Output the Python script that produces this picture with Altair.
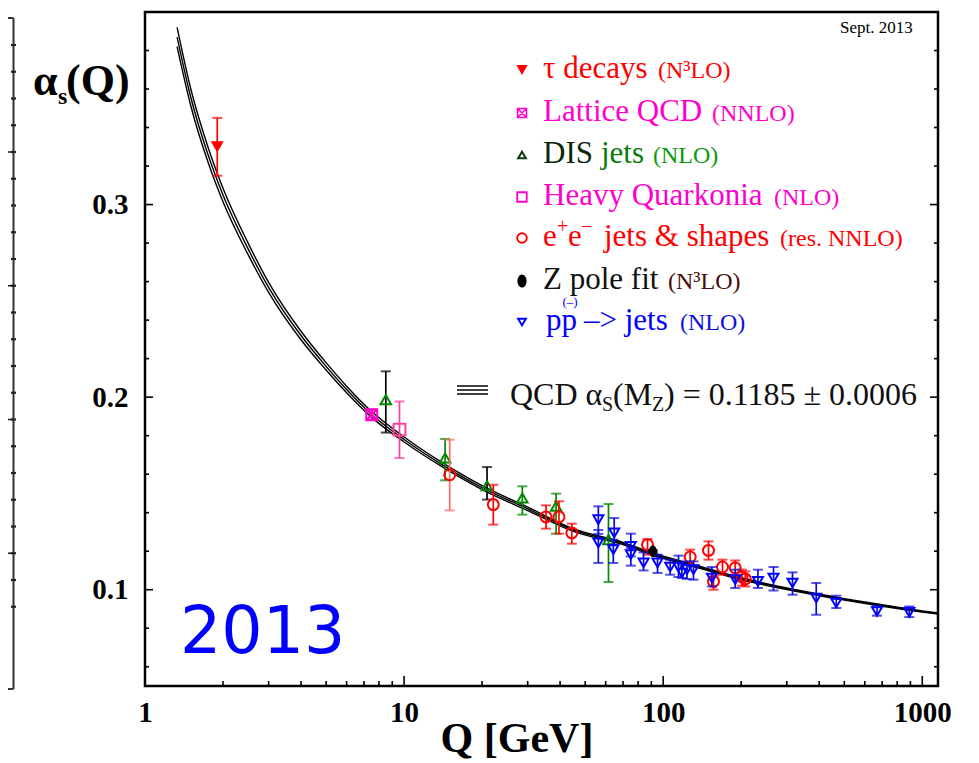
import altair as alt
import pandas as pd

# ---------------- data ----------------
# QCD running coupling curve (central value) and half width of the band
curve_q = [1.33, 1.5, 1.75, 2.0, 2.5, 3.0, 4.0, 5.0, 6.0, 7.5, 10, 14, 20, 30, 45, 70, 91.2, 130, 200, 300, 500, 700, 1000, 1150]
curve_a = [0.387, 0.356, 0.326, 0.305, 0.277, 0.257, 0.232, 0.216, 0.204, 0.191, 0.178, 0.165, 0.153, 0.142, 0.131, 0.124, 0.1185, 0.1127, 0.1057, 0.1005, 0.0950, 0.0918, 0.0887, 0.0876]
curve_band = [0.0050, 0.0044, 0.0039, 0.0035, 0.0030, 0.0026, 0.0022, 0.0019, 0.0017, 0.0015, 0.0013, 0.0011, 0.0010, 0.0009, 0.0007, 0.0006, 0.0006, 0.0005, 0.0005, 0.0004, 0.0004, 0.0004, 0.0003, 0.0003]

# tau decays (N3LO)
tau_q = [1.9]
tau_a = [0.330]
tau_lo = [0.315]
tau_hi = [0.345]

# Lattice QCD (NNLO)
lat_q = [7.5]
lat_a = [0.1909]
lat_lo = [0.1885]
lat_hi = [0.1933]

# DIS jets (NLO)
dis_q = [8.5, 14.4, 20.9, 28.6, 38.6, 61.5]
dis_a = [0.1987, 0.1684, 0.1540, 0.1476, 0.1433, 0.1260]
dis_lo = [0.1816, 0.1568, 0.1468, 0.1390, 0.1291, 0.1040]
dis_hi = [0.2134, 0.1783, 0.1637, 0.1537, 0.1499, 0.1445]

# Heavy Quarkonia (NLO)
qk_q = [9.6]
qk_a = [0.1831]
qk_lo = [0.1684]
qk_hi = [0.1978]

# e+e- jets & shapes (res. NNLO)
ee_q = [15.0, 22.1, 35.3, 39.6, 44.4, 87.0, 127.1, 149.6, 156.4, 169.4, 189.7, 201.3, 207.4]
ee_a = [0.1597, 0.1442, 0.1378, 0.1378, 0.1295, 0.1234, 0.1170, 0.1204, 0.1043, 0.1118, 0.1113, 0.1066, 0.1056]
ee_lo = [0.1412, 0.1338, 0.1317, 0.1291, 0.1239, 0.1182, 0.1130, 0.1156, 0.1000, 0.1078, 0.1069, 0.1021, 0.1017]
ee_hi = [0.1779, 0.1545, 0.1438, 0.1459, 0.1343, 0.1263, 0.1208, 0.1251, 0.1069, 0.1156, 0.1152, 0.1104, 0.1095]

# Z pole fit (N3LO)
z_q = [91.2]
z_a = [0.1200]
z_lo = [0.1195]
z_hi = [0.1205]

# p pbar -> jets (NLO)
pp_q = [56.2, 56.2, 64.7, 64.2, 75.0, 75.0, 84.0, 95.1, 106.4, 114.6, 118.1, 123.5, 130.9, 154.2, 189.7, 232.1, 266.6, 315.6, 389.7, 465.6, 668.6, 891]
pp_a = [0.1364, 0.1243, 0.1295, 0.1208, 0.1225, 0.1182, 0.1139, 0.1139, 0.1118, 0.1118, 0.1087, 0.1104, 0.1104, 0.1061, 0.1052, 0.1043, 0.1061, 0.1035, 0.0957, 0.0931, 0.0887, 0.0882]
pp_lo = [0.1290, 0.1139, 0.1234, 0.1139, 0.1173, 0.1125, 0.1100, 0.1087, 0.1078, 0.1066, 0.1061, 0.1056, 0.1052, 0.1017, 0.1009, 0.1009, 0.0996, 0.0974, 0.0870, 0.0905, 0.0865, 0.0858]
pp_hi = [0.1433, 0.1310, 0.1372, 0.1260, 0.1291, 0.1217, 0.1194, 0.1182, 0.1156, 0.1177, 0.1130, 0.1147, 0.1147, 0.1118, 0.1104, 0.1104, 0.1118, 0.1090, 0.1035, 0.0969, 0.0917, 0.0913]

# axis ticks
x_labels = [1, 10, 100, 1000]
x_minor = [2, 3, 4, 5, 6, 7, 8, 9, 20, 30, 40, 50, 60, 70, 80, 90, 200, 300, 400, 500, 600, 700, 800, 900]
x_major = [10, 100, 1000]
y_labels = [0.1, 0.2, 0.3]
y_minor = [0.06, 0.08, 0.12, 0.14, 0.16, 0.18, 0.22, 0.24, 0.26, 0.28, 0.32, 0.34, 0.36, 0.38]
y_major = [0.1, 0.2, 0.3]

# ---------------- layout / style ----------------
W, H = 793, 674
PX0, PY0 = 145, 12          # page position of the plot origin
SERIF = "Liberation Serif"
DIS_BAR_COLORS = ["black", "#008a00", "black", "#008a00", "#008a00", "#008a00"]
EE_BAR_COLORS = ["#ff6a6a"] + ["#ff0000"] * 12

xs = alt.Scale(type="log", domain=[1, 1150], nice=False)
ys = alt.Scale(domain=[0.05, 0.40], nice=False, zero=False)
xaxis = alt.Axis(values=x_labels, format="d", labelFont=SERIF, labelFontWeight="bold",
                 labelFontSize=29, labelColor="black", ticks=False, domain=False,
                 grid=False, title=None, labelPadding=12, labelFlush=False,
                 labelOverlap=False)
yaxis = alt.Axis(values=y_labels, format=".1f", labelFont=SERIF, labelFontWeight="bold",
                 labelFontSize=29, labelColor="black", ticks=False, domain=False,
                 grid=False, title=None, labelPadding=17, labelFlush=False,
                 labelOverlap=False)


def X(f):
    return alt.X(f, scale=xs, axis=xaxis)


def Y(f):
    return alt.Y(f, scale=ys, axis=yaxis)


BOXX = "M-1,-1L1,-1L1,1L-1,1Z M-1,-1L1,1 M1,-1L-1,1"
ELLIPSE = "M0,-1.15 A0.8,1.15 0 1,1 0,1.15 A0.8,1.15 0 1,1 0,-1.15 Z"


def px(x):
    return x - PX0


def py(y):
    return y - PY0


ONE = pd.DataFrame({"d": [0]})


def text(t, x, y, size, color="black", weight="normal", font=SERIF, align="left"):
    return alt.Chart(pd.DataFrame({"t": [t]})).mark_text(
        align=align, baseline="alphabetic", font=font, fontSize=size,
        fontWeight=weight, color=color
    ).encode(x=alt.value(px(x)), y=alt.value(py(y)), text=alt.Text("t:N"))


def hline(x1, x2, y, color="black", w=1.5):
    return alt.Chart(ONE).mark_rule(color=color, strokeWidth=w).encode(
        x=alt.value(px(x1)), x2=alt.value(px(x2)), y=alt.value(py(y)))


def vline(x, y1, y2, color="black", w=1.5):
    return alt.Chart(ONE).mark_rule(color=color, strokeWidth=w).encode(
        x=alt.value(px(x)), y=alt.value(py(y1)), y2=alt.value(py(y2)))


def legend_symbol(x, y, shape, color, size, filled, sw=2.0):
    return alt.Chart(ONE).mark_point(
        shape=shape, size=size, filled=filled, color=color, opacity=1,
        strokeWidth=sw
    ).encode(x=alt.value(px(x)), y=alt.value(py(y)))


def series(q, a, lo, hi, shape, color, bar_colors, size, filled=False, cap=10, sw=2.0):
    df = pd.DataFrame({"q": q, "a": a, "lo": lo, "hi": hi, "bc": bar_colors})
    base = alt.Chart(df)
    bc = alt.Color("bc:N", scale=None, legend=None)
    bars = base.mark_rule(strokeWidth=1.7).encode(x=X("q:Q"), y=Y("lo:Q"), y2="hi:Q", color=bc)
    cap_lo = base.mark_tick(orient="horizontal", size=cap, thickness=2).encode(
        x=X("q:Q"), y=Y("lo:Q"), color=bc)
    cap_hi = base.mark_tick(orient="horizontal", size=cap, thickness=2).encode(
        x=X("q:Q"), y=Y("hi:Q"), color=bc)
    pts = base.mark_point(shape=shape, size=size, filled=filled, color=color,
                          opacity=1, strokeWidth=sw).encode(x=X("q:Q"), y=Y("a:Q"))
    return [bars, cap_lo, cap_hi, pts]


layers = []

# curve with its band (three thin lines)
cdf = pd.DataFrame({"q": curve_q, "a": curve_a, "b": curve_band})
cdf["up"] = cdf["a"] + cdf["b"]
cdf["dn"] = cdf["a"] - cdf["b"]
for col in ["a", "up", "dn"]:
    layers.append(alt.Chart(cdf).mark_line(color="black", strokeWidth=1.4, interpolate="monotone").encode(
        x=X("q:Q"), y=Y(f"{col}:Q")))

# data series
layers += series(tau_q, tau_a, tau_lo, tau_hi, "triangle-down", "#ff0000", ["#ff0000"], 170, filled=True)
layers += series(lat_q, lat_a, lat_lo, lat_hi, BOXX, "#ff00cc", ["#ff00cc"], 120)
layers += series(dis_q, dis_a, dis_lo, dis_hi, "triangle-up", "#008a00", DIS_BAR_COLORS, 110)
layers += series(qk_q, qk_a, qk_lo, qk_hi, "square", "#ff3fa0", ["#ff3fa0"], 140)
layers += series(ee_q, ee_a, ee_lo, ee_hi, "circle", "#ff0000", EE_BAR_COLORS, 120)
layers += series(pp_q, pp_a, pp_lo, pp_hi, "triangle-down", "#0000ff", ["#0a0ad8"] * len(pp_q), 100)
layers += series(z_q, z_a, z_lo, z_hi, ELLIPSE, "black", ["black"], 100, filled=True)


# inward axis ticks
def yticks(vals, length, right=False):
    x1, x2 = (W, W - length) if right else (0, length)
    return alt.Chart(pd.DataFrame({"v": vals})).mark_rule(color="black", strokeWidth=1.6).encode(
        y=Y("v:Q"), x=alt.value(x1), x2=alt.value(x2))


def xticks(vals, length):
    return alt.Chart(pd.DataFrame({"v": vals})).mark_rule(color="black", strokeWidth=1.6).encode(
        x=X("v:Q"), y=alt.value(H), y2=alt.value(H - length))


layers += [yticks(y_minor, 4), yticks(y_major, 8), yticks(y_minor, 4, True), yticks(y_major, 8, True),
           xticks(x_minor, 5), xticks(x_major, 10)]

# neighbouring panel edge on the far left
layers.append(vline(13.5, 18, 689, "#333333", 2))
layers.append(hline(8, 13.5, 18, "#333333", 2))
layers.append(hline(8, 13.5, 689, "#333333", 2))
for k in range(22):
    yk = 45 + 26.75 * k
    layers.append(hline(11, 16, yk, "#222222", 2.2))
    if k in (4, 9, 14, 19):
        layers.append(hline(7, 13.5, yk, "#222222", 1.6))

# axis titles
layers.append(text("α", 33, 95, 44, weight="bold"))
layers.append(text("s", 58, 104, 24, weight="bold"))
layers.append(text("(Q)", 66, 95, 44, weight="bold"))
layers.append(text("Q [GeV]", 517, 752, 42, weight="bold", align="center"))

# annotations
layers.append(text("Sept. 2013", 840, 33, 17))
layers.append(text("2013", 180, 653, 65, color="#0000ff", font="DejaVu Sans"))

# legend
LX = 522
layers.append(legend_symbol(LX, 70, "triangle-down", "#ff0000", 130, True))
layers.append(text("τ decays", 543, 78, 31, "#ff0000"))
layers.append(text("(N³LO)", 658, 78, 24, "#ff0000"))

layers.append(legend_symbol(LX, 113, BOXX, "#ff00cc", 80, False, 1.6))
layers.append(text("Lattice QCD", 543, 121, 31, "#ff00cc"))
layers.append(text("(NNLO)", 712, 121, 24, "#ff00cc"))

layers.append(legend_symbol(LX, 155, "triangle-up", "#0b3a0b", 60, False, 2))
layers.append(text("DIS", 543, 163, 31, "#0d260d"))
layers.append(text("jets", 601, 163, 31, "#0a7a0a"))
layers.append(text("(NLO)", 653, 163, 24, "#0a9a0a"))

layers.append(legend_symbol(LX, 197, "square", "#ff00cc", 90, False, 1.8))
layers.append(text("Heavy Quarkonia", 543, 205, 31, "#ff00cc"))
layers.append(text("(NLO)", 774, 205, 24, "#ff00cc"))

layers.append(legend_symbol(LX, 238, "circle", "#ff0000", 90, False, 2))
layers.append(text("e", 543, 246, 31, "#ff0000"))
layers.append(text("+", 557, 233, 20, "#ff0000"))
layers.append(text("e", 568, 246, 31, "#ff0000"))
layers.append(text("−", 581, 233, 20, "#ff0000"))
layers.append(text("jets & shapes", 604, 246, 31, "#ff0000"))
layers.append(text("(res. NNLO)", 780, 246, 24, "#ff0000"))

layers.append(legend_symbol(LX, 281, ELLIPSE, "black", 130, True))
layers.append(text("Z pole fit", 543, 289, 31, "#111111"))
layers.append(text("(N³LO)", 668, 289, 24, "#4a0c0c"))

layers.append(legend_symbol(LX, 322, "triangle-down", "#0000ff", 60, False, 2))
layers.append(text("pp", 546, 330, 31, "#0000ff"))
layers.append(text("(–)", 570, 306, 13, "#0000ff", align="center"))
layers.append(text("–> jets", 584, 330, 31, "#0000ff"))
layers.append(text("(NLO)", 680, 330, 24, "#1010e0"))

# QCD curve label
for yy in (386, 390, 394):
    layers.append(hline(457, 488, yy, "black", 1.5))
layers.append(text("QCD α", 510, 405, 32, "#111111"))
layers.append(text("S", 602, 411, 20, "#111111"))
layers.append(text("(M", 613, 405, 32, "#111111"))
layers.append(text("Z", 652, 411, 20, "#111111"))
layers.append(text(") = 0.1185 ± 0.0006", 664, 405, 32, "#111111"))

chart = alt.layer(*layers).properties(
    width=W, height=H,
    autosize=alt.AutoSizeParams(type="none"),
    padding={"left": 137, "top": 4, "right": 30, "bottom": 75},
    background="white",
).configure_view(stroke="black", strokeWidth=2.5)

chart.save("out.html", embed_options={"renderer": "svg", "actions": False})
